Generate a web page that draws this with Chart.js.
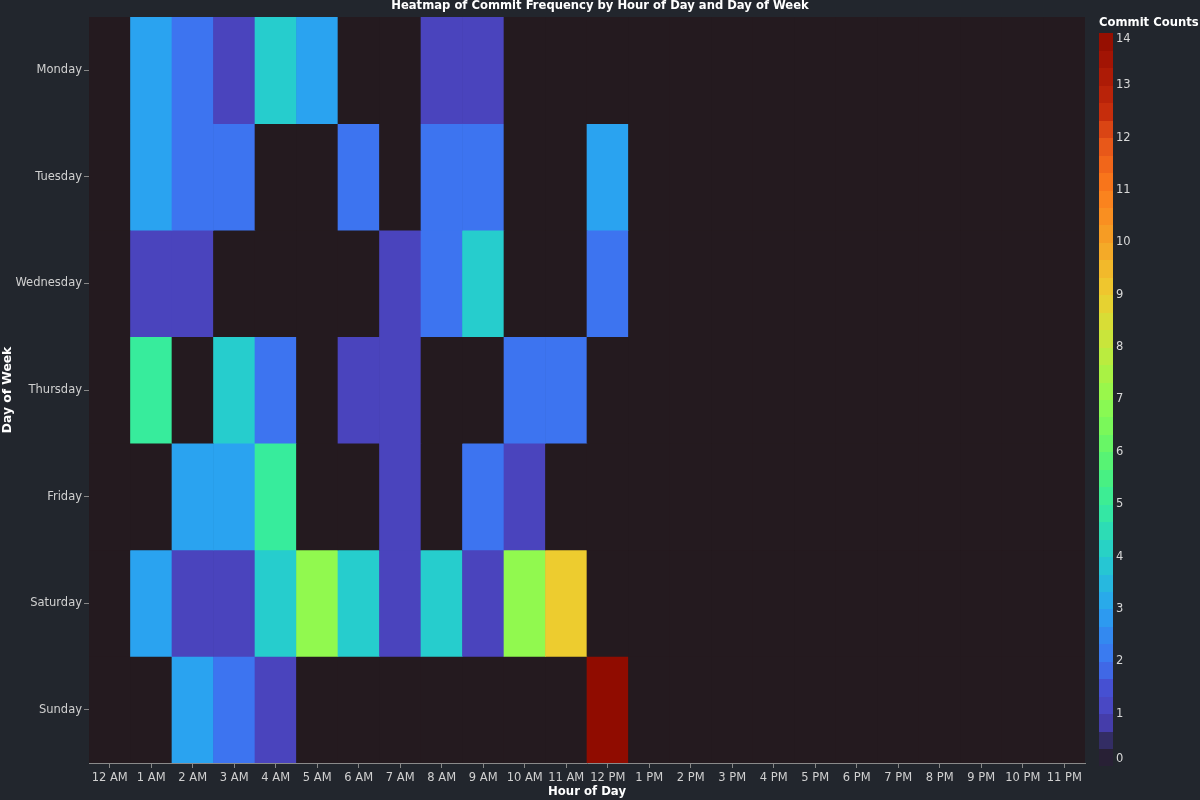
<!DOCTYPE html>
<html>
<head>
<meta charset="utf-8">
<style>
  html, body { margin: 0; padding: 0; background: #22262d; }
  canvas { display: block; }
</style>
<script src="https://cdn.jsdelivr.net/npm/chart.js@4/dist/chart.umd.min.js"></script>
</head>
<body>
<canvas id="c" width="1200" height="800"></canvas>
<script>
// ---- data ----
const hours = ['12 AM','1 AM','2 AM','3 AM','4 AM','5 AM','6 AM','7 AM','8 AM','9 AM','10 AM','11 AM',
               '12 PM','1 PM','2 PM','3 PM','4 PM','5 PM','6 PM','7 PM','8 PM','9 PM','10 PM','11 PM'];
const days = ['Monday','Tuesday','Wednesday','Thursday','Friday','Saturday','Sunday'];

const monday    = [0,3,2,1,4,3,0,0,1,1,0,0, 0,0,0,0,0,0,0,0,0,0,0,0];
const tuesday   = [0,3,2,2,0,0,2,0,2,2,0,0, 3,0,0,0,0,0,0,0,0,0,0,0];
const wednesday = [0,1,1,0,0,0,0,1,2,4,0,0, 2,0,0,0,0,0,0,0,0,0,0,0];
const thursday  = [0,5,0,4,2,0,1,1,0,0,2,2, 0,0,0,0,0,0,0,0,0,0,0,0];
const friday    = [0,0,3,3,5,0,0,1,0,2,1,0, 0,0,0,0,0,0,0,0,0,0,0,0];
const saturday  = [0,3,1,1,4,7,4,1,4,1,7,9, 0,0,0,0,0,0,0,0,0,0,0,0];
const sunday    = [0,0,3,2,1,0,0,0,0,0,0,0, 14,0,0,0,0,0,0,0,0,0,0,0];
const rows = [monday, tuesday, wednesday, thursday, friday, saturday, sunday];

const colorbarTicks = [0,1,2,3,4,5,6,7,8,9,10,11,12,13,14];
const colorMin = 0, colorMax = 14;

const titleText = 'Heatmap of Commit Frequency by Hour of Day and Day of Week';
const legendTitle = 'Commit Counts';

// ---- colour scale ----
const colorStops = [
  [0,'#241a1f'],[0.25,'#2a2340'],[0.5,'#332d64'],[0.75,'#4239a0'],[1,'#4a44bd'],
  [1.5,'#4650d2'],[2,'#3d74f0'],[2.5,'#3389f0'],[3,'#2aa3f0'],[3.5,'#27b8df'],
  [4,'#26cdcd'],[4.5,'#2ddcb5'],[5,'#37ec9c'],[5.5,'#48f083'],[6,'#5ff56c'],
  [6.5,'#7af85a'],[7,'#91f94f'],[7.5,'#a9f244'],[8,'#c2e93d'],[8.5,'#d8dd36'],
  [9,'#edcc2f'],[9.5,'#f2b92b'],[10,'#f5a326'],[10.5,'#f98f21'],[11,'#fb7d1c'],
  [11.5,'#f1661a'],[12,'#e45118'],[12.5,'#c62d0c'],[13,'#b21e07'],[13.5,'#a21404'],
  [14,'#900c00']
];
function hexToRgb(h){ return [parseInt(h.slice(1,3),16),parseInt(h.slice(3,5),16),parseInt(h.slice(5,7),16)]; }
function colorFor(v){
  if (v <= colorStops[0][0]) return colorStops[0][1];
  for (let i = 1; i < colorStops.length; i++) {
    if (v <= colorStops[i][0]) {
      const [v0,c0] = colorStops[i-1], [v1,c1] = colorStops[i];
      const t = (v - v0) / (v1 - v0);
      const a = hexToRgb(c0), b = hexToRgb(c1);
      const m = a.map((x,k) => Math.round(x + (b[k]-x)*t));
      return 'rgb(' + m.join(',') + ')';
    }
  }
  return colorStops[colorStops.length-1][1];
}

Chart.defaults.font.family = "'DejaVu Sans', sans-serif";
Chart.defaults.color = '#d0d0d0';

const datasets = rows.map((vals, d) => ({
  label: days[d],
  data: hours.map(() => [d - 0.5, d + 0.5]),
  backgroundColor: vals.map(colorFor),
  borderWidth: 0,
  borderSkipped: false,
  barPercentage: 1,
  categoryPercentage: 1
}));

const bgPlugin = {
  id: 'bg',
  beforeDraw(chart) {
    const {ctx, chartArea: a} = chart;
    ctx.save();
    ctx.fillStyle = colorStops[0][1];
    ctx.fillRect(a.left, a.top, a.right - a.left, a.bottom - a.top);
    ctx.restore();
  }
};

const titlePlugin = {
  id: 'centerTitle',
  afterDraw(chart) {
    const ctx = chart.ctx;
    ctx.save();
    ctx.fillStyle = '#ffffff';
    ctx.font = "bold 11.6px 'DejaVu Sans', sans-serif";
    ctx.textAlign = 'center';
    ctx.textBaseline = 'middle';
    ctx.fillText(titleText, chart.width / 2, 6);
    ctx.restore();
  }
};

const colorbarPlugin = {
  id: 'colorbar',
  afterDraw(chart) {
    const ctx = chart.ctx;
    const x0 = 1099, w = 14, top = 33, bottom = 766;
    const pix = v => bottom - (v - colorMin) / (colorMax - colorMin) * (bottom - top);
    ctx.save();
    const n = 42;
    for (let i = 0; i < n; i++) {
      const v0 = colorMin + (colorMax - colorMin) * i / n;
      const v1 = colorMin + (colorMax - colorMin) * (i + 1) / n;
      ctx.fillStyle = colorFor((v0 + v1) / 2);
      const yTop = Math.floor(pix(v1)), yBot = Math.ceil(pix(v0));
      ctx.fillRect(x0, yTop, w, yBot - yTop);
    }
    ctx.fillStyle = '#ffffff';
    ctx.font = "bold 11.6px 'DejaVu Sans', sans-serif";
    ctx.textAlign = 'left';
    ctx.textBaseline = 'middle';
    ctx.fillText(legendTitle, x0, 23);
    ctx.fillStyle = '#d8d8d8';
    ctx.font = "11.5px 'DejaVu Sans', sans-serif";
    colorbarTicks.forEach(t => {
      let y = pix(t);
      if (t === colorMax) y = top + 6;
      if (t === colorMin) y = bottom - 7;
      ctx.fillText(String(t), x0 + w + 3, y);
    });
    ctx.restore();
  }
};

new Chart(document.getElementById('c'), {
  type: 'bar',
  data: { labels: hours, datasets },
  options: {
    responsive: false,
    animation: false,
    layout: { padding: { left: 0, right: 115, top: 17, bottom: 0 } },
    plugins: {
      legend: { display: false },
      tooltip: { enabled: false },
      title: { display: false }
    },
    scales: {
      x: {
        type: 'category',
        stacked: true,
        offset: true,
        grid: { display: true, drawOnChartArea: false, drawTicks: true, tickLength: 5, color: '#888888', offset: false },
        border: { display: true, color: '#8a8a8a', width: 1 },
        ticks: { autoSkip: false, maxRotation: 0, minRotation: 0, padding: 3, color: '#d0d0d0', font: { size: 11.5 } },
        title: { display: true, text: 'Hour of Day', color: '#ffffff', font: { size: 11.7, weight: 'bold', lineHeight: 1.2 }, padding: { top: 0, bottom: 1 } },
        afterFit(s) { s.height = 37; }
      },
      y: {
        type: 'linear',
        stacked: false,
        min: -0.5,
        max: 6.5,
        reverse: true,
        afterBuildTicks(s) { s.ticks = days.map((d, i) => ({ value: i })); },
        grid: { display: true, drawOnChartArea: false, drawTicks: true, tickLength: 5, color: '#888888' },
        border: { display: false },
        ticks: { padding: 2, color: '#d0d0d0', font: { size: 11.5 }, callback: v => days[v] },
        title: { display: true, text: 'Day of Week', color: '#ffffff', font: { size: 12.3, weight: 'bold', lineHeight: 1.2 }, padding: { top: 0, bottom: 0 } },
        afterFit(s) { s.width = 89; }
      }
    }
  },
  plugins: [bgPlugin, titlePlugin, colorbarPlugin]
});
</script>
</body>
</html>
